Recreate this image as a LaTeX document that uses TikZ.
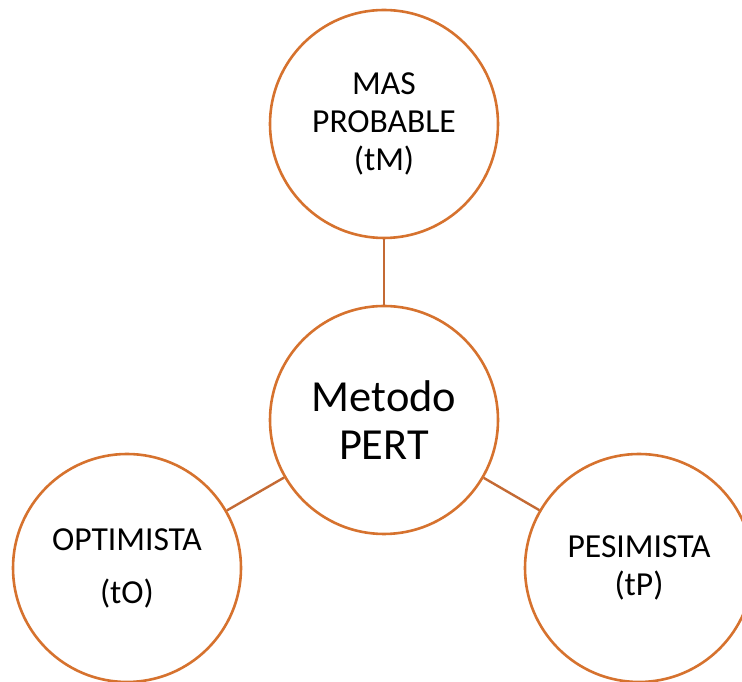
\documentclass[tikz,border=0pt]{standalone}
\usepackage{fontspec}
\setmainfont{Carlito}
\usepackage{tikz}
\usetikzlibrary{positioning}
\definecolor{ringorange}{RGB}{214,114,46}
\definecolor{linkbrown}{RGB}{196,106,52}

\tikzset{
    event/.style={circle, draw=ringorange, line width=2.6pt, fill=white,
                  minimum size=228pt, inner sep=0pt, align=center,
                  font=\fontsize{33.6}{38}\selectfont},
    link/.style={draw=linkbrown, line width=2.4pt}
}

\begin{document}
\begin{tikzpicture}[x=1pt, y=1pt]

    % --- PAGE FRAME ---
    \useasboundingbox (0,0) rectangle (742,682);

    % --- CENTRE NODE ---
    \node[event, font=\fontsize{44.4}{48}\selectfont] (pert) at (384,262) {Metodo\\PERT};

    % --- ESTIMATES ---
    \node[event] (likely) at (384,558) {MAS\\PROBABLE\\(tM)};
    \node[event] (optim)  at (127,114) {OPTIMISTA\\[15pt](tO)};
    \node[event] (pesim)  at (639,114) {PESIMISTA\\(tP)};

    % --- CONNECTORS ---
    \draw[link] (pert) -- (likely);
    \draw[link] (pert) -- (optim);
    \draw[link] (pert) -- (pesim);

\end{tikzpicture}
\end{document}
